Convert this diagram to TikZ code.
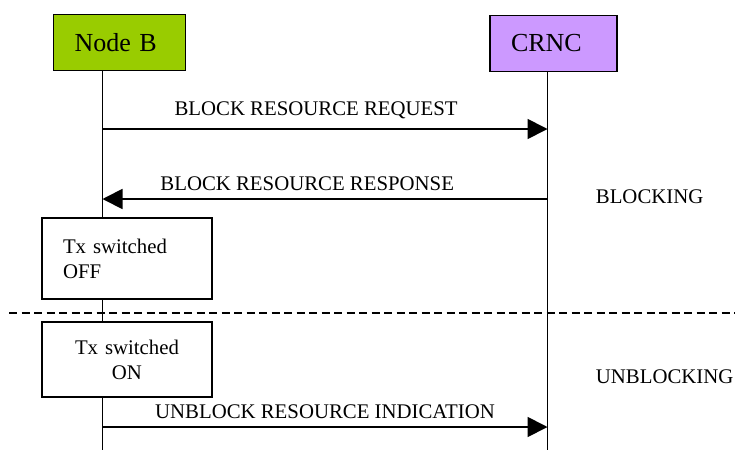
\documentclass[tikz,border=0pt]{standalone}
\usepackage{fontspec}
\setmainfont{Liberation Serif}
\usetikzlibrary{arrows.meta}
\definecolor{nodebgreen}{HTML}{99CC00}
\definecolor{crncpurple}{HTML}{CC99FF}
\begin{document}
\begin{tikzpicture}[x=1pt,y=-1pt,line width=1.8pt,
        every node/.style={font=\fontsize{20.8}{25}\selectfont},
        entity/.style={draw,font=\fontsize{26}{30}\selectfont,align=left,inner xsep=21pt,minimum height=56pt},
        statebox/.style={draw,fill=white,minimum width=170pt,inner xsep=21pt},
        phase/.style={anchor=base west,inner xsep=0pt},
        msg/.style={-{Triangle[length=20pt,width=20pt]}}]
        \useasboundingbox (0,0) rectangle (735,450);
        %% Entities
        \node[entity,fill=nodebgreen,text width=90pt] (nodeb) at (119.5,42.5) {Node B};
        \node[entity,fill=crncpurple,text width=85pt] (crnc) at (553.5,43.5) {CRNC};
        %% Lifelines
        \coordinate (nb-end) at (102.5,450);
        \coordinate (cr-end) at (547.5,450);
        \draw (nodeb.south -| nb-end) -- (nb-end);
        \draw (crnc.south -| cr-end) -- (cr-end);
        %% Messages
        \coordinate (req) at (0,129);
        \coordinate (rsp) at (0,199);
        \coordinate (ind) at (0,427);
        \draw[msg] (nb-end |- req) -- (cr-end |- req)
            node[pos=0.48,anchor=base,yshift=14pt] {BLOCK RESOURCE REQUEST};
        \draw[msg] (cr-end |- rsp) -- (nb-end |- rsp)
            node[pos=0.54,anchor=base,yshift=9pt] {BLOCK RESOURCE RESPONSE};
        \draw[msg] (nb-end |- ind) -- (cr-end |- ind)
            node[pos=0.5,anchor=base,yshift=9pt] {UNBLOCK RESOURCE INDICATION};
        %% Tx states
        \node[statebox,minimum height=81pt,align=left,text width=128pt] (txoff) at (127,258.5) {Tx switched\\OFF};
        \node[statebox,minimum height=75pt,align=center,text width=128pt] (txon) at (127,359.5) {Tx switched\\ON};
        %% Phases
        \draw[dash pattern=on 8pt off 4.5pt] (9,313) -- (735,313);
        \node[phase] (blocking) at (595,203) {BLOCKING};
        \node[phase] (unblocking) at (595,383) {UNBLOCKING};
    \end{tikzpicture}
\end{document}
